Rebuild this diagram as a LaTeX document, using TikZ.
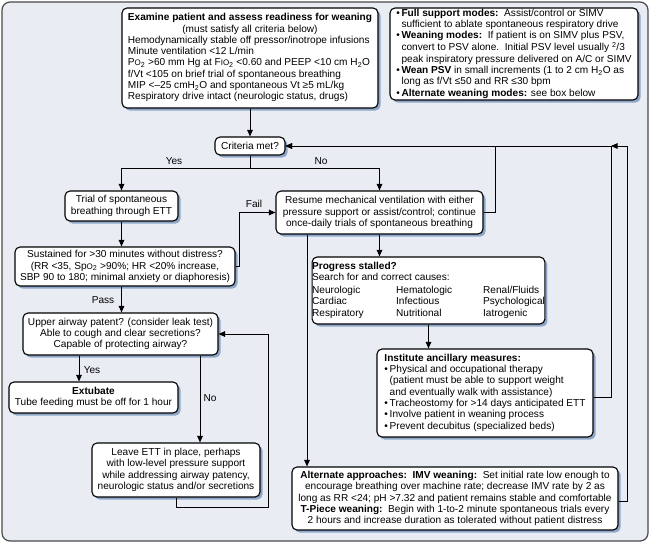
\documentclass[tikz,border=0pt]{standalone}
\usepackage{fontspec}
\setmainfont{Liberation Sans}
\usetikzlibrary{shadows,arrows.meta,calc}
\definecolor{bgc}{HTML}{E9EDF3}
\definecolor{shc}{HTML}{8DA5C9}
\definecolor{frc}{HTML}{4A4A4A}
\tikzset{
  box/.style={draw=black, line width=1.1pt, fill=white, rounded corners=5pt,
    inner sep=0pt, drop shadow={shadow xshift=2.5pt, shadow yshift=-2.5pt, fill=shc, opacity=1},
    font=\fontsize{10.1}{11.3}\selectfont},
  arr/.style={line width=1pt, -{Triangle[length=6.5pt,width=5.5pt]}},
  lbl/.style={font=\fontsize{10.1}{11}\selectfont, inner sep=1pt},
}
\begin{document}
\begin{tikzpicture}[x=1pt,y=-1pt]
\useasboundingbox (0,0) rectangle (650,543);
\draw[frc, line width=1.2pt, fill=bgc, rounded corners=8pt] (2,2) rectangle (648,541);

\node[box, minimum width=256pt, minimum height=100pt] (box1) at (250,58) {%
\begin{tabular}{@{}l@{}}
\textbf{Examine patient and assess readiness for weaning}\\
\multicolumn{1}{@{}c@{}}{(must satisfy all criteria below)}\\
Hemodynamically stable off pressor/inotrope infusions\\
Minute ventilation <12 L/min\\
P{\footnotesize O}\textsubscript{2} >60 mm Hg at F{\footnotesize IO}\textsubscript{2} <0.60 and PEEP <10 cm H\textsubscript{2}O\\
f/Vt <105 on brief trial of spontaneous breathing\\
MIP <–25 cmH\textsubscript{2}O and spontaneous Vt ≥5 mL/kg\\
Respiratory drive intact (neurologic status, drugs)
\end{tabular}};

\node[box, minimum width=248pt, minimum height=92pt] (box2) at (514,54) {%
\begin{tabular}{@{}l@{\,}l@{}}
\textbullet & \textbf{Full support modes:}\ \ Assist/control or SIMV\\
& sufficient to ablate spontaneous respiratory drive\\
\textbullet & \textbf{Weaning modes:}\ \ If patient is on SIMV plus PSV,\\
& convert to PSV alone.\ \ Initial PSV level usually \textsuperscript{2}/3\\
& peak inspiratory pressure delivered on A/C or SIMV\\
\textbullet & \textbf{Wean PSV} in small increments (1 to 2 cm H\textsubscript{2}O as\\
& long as f/Vt ≤50 and RR ≤30 bpm\\
\textbullet & \textbf{Alternate weaning modes:} see box below
\end{tabular}};

\node[box, minimum width=70pt, minimum height=18pt] (crit) at (250,146) {Criteria met?};

\node[box, minimum width=113pt, minimum height=30pt, align=center] (trial) at (121.5,206)
  {Trial of spontaneous\\breathing through ETT};

\node[box, minimum width=220pt, minimum height=39pt, align=center] (sust) at (125,266.5)
  {Sustained for >30 minutes without distress?\\
   (RR <35, Sp{\footnotesize O}\textsubscript{2} >90\%; HR <20\% increase,\\
   SBP 90 to 180; minimal anxiety or diaphoresis)};

\node[box, minimum width=195pt, minimum height=42pt, align=center] (air) at (120.5,334)
  {Upper airway patent? (consider leak test)\\
   Able to cough and clear secretions?\\
   Capable of protecting airway?};

\node[box, minimum width=169pt, minimum height=31pt, align=center] (ext) at (93.5,397.5)
  {\textbf{Extubate}\\Tube feeding must be off for 1 hour};

\node[box, minimum width=168pt, minimum height=54pt, align=center] (leave) at (176,470)
  {Leave ETT in place, perhaps\\
   with low-level pressure support\\
   while addressing airway patency,\\
   neurologic status and/or secretions};

\node[box, minimum width=207pt, minimum height=43pt, align=center] (resume) at (379.5,212.5)
  {Resume mechanical ventilation with either\\
   pressure support or assist/control; continue\\
   once-daily trials of spontaneous breathing};

\node[box, minimum width=223pt, minimum height=67pt] (prog) at (428.5,290.5) {%
\begin{tabular}{@{}p{72pt}p{75pt}l@{}}
\multicolumn{3}{@{}l@{}}{\textbf{Progress stalled?}}\\
\multicolumn{3}{@{}l@{}}{Search for and correct causes:}\\[1.5pt]
Neurologic & Hematologic & Renal/Fluids\\
Cardiac & Infectious & Psychological\\
Respiratory & Nutritional & Iatrogenic
\end{tabular}};

\node[box, minimum width=216pt, minimum height=88pt] (anc) at (485,393) {%
\begin{tabular}{@{}l@{\,}l@{}}
\multicolumn{2}{@{}l@{}}{\textbf{Institute ancillary measures:}}\\
\textbullet & Physical and occupational therapy\\
& (patient must be able to support weight\\
& and eventually walk with assistance)\\
\textbullet & Tracheostomy for >14 days anticipated ETT\\
\textbullet & Involve patient in weaning process\\
\textbullet & Prevent decubitus (specialized beds)
\end{tabular}};

\node[box, minimum width=326pt, minimum height=63pt, align=center] (alt) at (455,498.5)
  {\textbf{Alternate approaches:\ \ IMV weaning:}\ \ Set initial rate low enough to\\
   encourage breathing over machine rate; decrease IMV rate by 2 as\\
   long as RR <24; pH >7.32 and patient remains stable and comfortable\\
   \textbf{T-Piece weaning:}\ \ Begin with 1-to-2 minute spontaneous trials every\\
   2 hours and increase duration as tolerated without patient distress};

% helper coordinates
\coordinate (yx) at (79,0);
\coordinate (nx) at (200,0);
\coordinate (ax) at (307,0);
\coordinate (r1) at (611,0);
\coordinate (r2) at (627,0);

% connectors
\draw[arr] (box1.south) -- (crit.north);
\draw[arr] (crit.south) -- ++(0,13) -| (trial.north);
\draw[arr] (crit.south) -- ++(0,13) -| (resume.north);
\draw[arr] (trial.south) -- (trial.south |- sust.north);
\draw[arr] (sust.east) -- ++(4,0) |- (resume.west);
\draw[arr] (sust.south -| trial.south) -- (air.north -| trial.south);
\draw[arr] (air.south -| yx) -- (ext.north -| yx);
\draw[arr] (air.south -| nx) -- (leave.north -| nx);
\draw[arr] (leave.south) -- ++(0,10) -| ($(air.east)+(50,0)$) -- (air.east);
\draw[arr] (resume.south) -- (resume.south |- prog.north);
\draw[arr] (prog.south) -- (prog.south |- anc.north);
\draw[arr] (resume.south -| ax) -- (alt.north -| ax);
\draw[arr] (resume.east) -- ++(12,0) |- (crit.east);
\draw[arr] ($(anc.east)+(0,4)$) -| (r1 |- crit.east) -- (crit.east);
\draw[arr] ($(alt.east)+(0,3)$) -| (r2 |- crit.east) -- (r1 |- crit.east);

% labels
\node[lbl] (lyes) at (174,161) {Yes};
\node[lbl] (lno) at (321,161) {No};
\node[lbl] (lfail) at (254,204) {Fail};
\node[lbl] (lpass) at (103,300) {Pass};
\node[lbl] (lyes2) at (92,370) {Yes};
\node[lbl] (lno2) at (210,398) {No};
\end{tikzpicture}
\end{document}
